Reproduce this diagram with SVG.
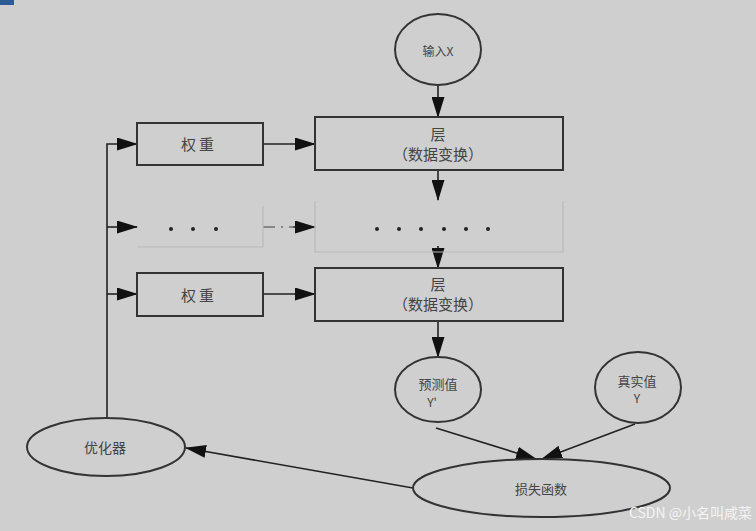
<svg xmlns="http://www.w3.org/2000/svg" width="756" height="531" viewBox="0 0 756 531">
<defs>
<marker id="ah" markerWidth="21" markerHeight="13" refX="20" refY="6.5" orient="auto" markerUnits="userSpaceOnUse">
<path d="M0,0 L21,6.5 L0,13 Z" fill="#111"/>
</marker>
<style>
.box{fill:none;stroke:#333;stroke-width:2}
.faint{fill:none;stroke:#b9b9b9;stroke-width:1.2}
.ln{fill:none;stroke:#222;stroke-width:1.6}
.t{font-family:"Noto Sans CJK SC","Liberation Serif",serif;fill:#444;text-anchor:middle;dominant-baseline:central}
.dot{fill:#222}
</style>
</defs>
<rect x="0" y="0" width="756" height="531" fill="#cfcfcf"/>
<rect x="0" y="0" width="14" height="5" fill="#2d5b94"/>

<g id="connectors">
<line class="ln" x1="438" y1="85" x2="438" y2="117" marker-end="url(#ah)"/>
<line class="ln" x1="263" y1="144" x2="315" y2="144" marker-end="url(#ah)"/>
<line class="ln" x1="438" y1="170" x2="438" y2="200" marker-end="url(#ah)"/>
<line class="ln" x1="438" y1="246" x2="438" y2="268" marker-end="url(#ah)"/>
<line class="ln" x1="263" y1="294" x2="315" y2="294" marker-end="url(#ah)"/>
<line class="ln" x1="438" y1="321" x2="438" y2="357" marker-end="url(#ah)"/>
<line x1="263" y1="227" x2="296" y2="227" stroke="#888" stroke-width="2" stroke-dasharray="12,6,2,6"/>
<line x1="293" y1="227" x2="315" y2="227" stroke="#222" stroke-width="1" marker-end="url(#ah)"/>
<polyline class="ln" points="107,418 107,144 137,144" marker-end="url(#ah)"/>
<line class="ln" x1="107" y1="227" x2="137" y2="227" marker-end="url(#ah)"/>
<line class="ln" x1="107" y1="294" x2="137" y2="294" marker-end="url(#ah)"/>
<line class="ln" x1="436" y1="428" x2="536" y2="459" marker-end="url(#ah)"/>
<line class="ln" x1="635" y1="424" x2="542" y2="459" marker-end="url(#ah)"/>
<line class="ln" x1="413" y1="488" x2="186" y2="448" marker-end="url(#ah)"/>
</g>

<g id="input">
<ellipse class="box" cx="438" cy="49.5" rx="43" ry="35.5"/>
<text class="t" x="438" y="50" font-size="12">输入X</text>
</g>

<g id="layer1">
<rect class="box" x="315" y="117" width="248" height="53"/>
<text class="t" x="438" y="133" font-size="15">层</text>
<text class="t" x="438" y="153" font-size="15">（数据变换）</text>
</g>

<g id="weight1">
<rect class="box" x="137" y="123" width="126" height="42"/>
<text class="t" x="199" y="143" font-size="15" letter-spacing="3">权重</text>
</g>

<g id="dots-weight">
<polyline class="faint" points="137,247 263,247 263,206"/>
<circle class="dot" cx="171" cy="229" r="2"/>
<circle class="dot" cx="193" cy="229" r="2"/>
<circle class="dot" cx="216" cy="229" r="2"/>
</g>

<g id="dots-layer">
<polyline class="faint" points="315,201 315,252 563,252 563,201"/>
<circle class="dot" cx="377" cy="229" r="2"/>
<circle class="dot" cx="399" cy="229" r="2"/>
<circle class="dot" cx="421" cy="229" r="2"/>
<circle class="dot" cx="444" cy="229" r="2"/>
<circle class="dot" cx="466" cy="229" r="2"/>
<circle class="dot" cx="488" cy="229" r="2"/>
</g>

<g id="layer2">
<rect class="box" x="315" y="268" width="248" height="53"/>
<text class="t" x="438" y="283" font-size="15">层</text>
<text class="t" x="438" y="303" font-size="15">（数据变换）</text>
</g>

<g id="weight2">
<rect class="box" x="137" y="273" width="126" height="43"/>
<text class="t" x="199" y="294" font-size="15" letter-spacing="3">权重</text>
</g>

<g id="predicted">
<ellipse class="box" cx="438" cy="389.5" rx="43" ry="32.5"/>
<text class="t" x="438" y="383" font-size="13">预测值</text>
<text class="t" x="432" y="401" font-size="12">Y'</text>
</g>

<g id="truth">
<ellipse class="box" cx="638" cy="387.5" rx="43" ry="35.5"/>
<text class="t" x="637" y="380" font-size="13">真实值</text>
<text class="t" x="637" y="397" font-size="12">Y</text>
</g>

<g id="loss">
<ellipse class="box" cx="541.5" cy="488" rx="128.5" ry="29"/>
<text class="t" x="541" y="488" font-size="13">损失函数</text>
</g>

<g id="optimizer">
<ellipse class="box" cx="106" cy="447" rx="79" ry="29"/>
<text class="t" x="105" y="447" font-size="14">优化器</text>
</g>

<text x="752" y="518" font-family="Noto Sans CJK SC, Liberation Sans, sans-serif" font-size="14" fill="#f4f4f4" text-anchor="end">CSDN @小名叫咸菜</text>
</svg>
